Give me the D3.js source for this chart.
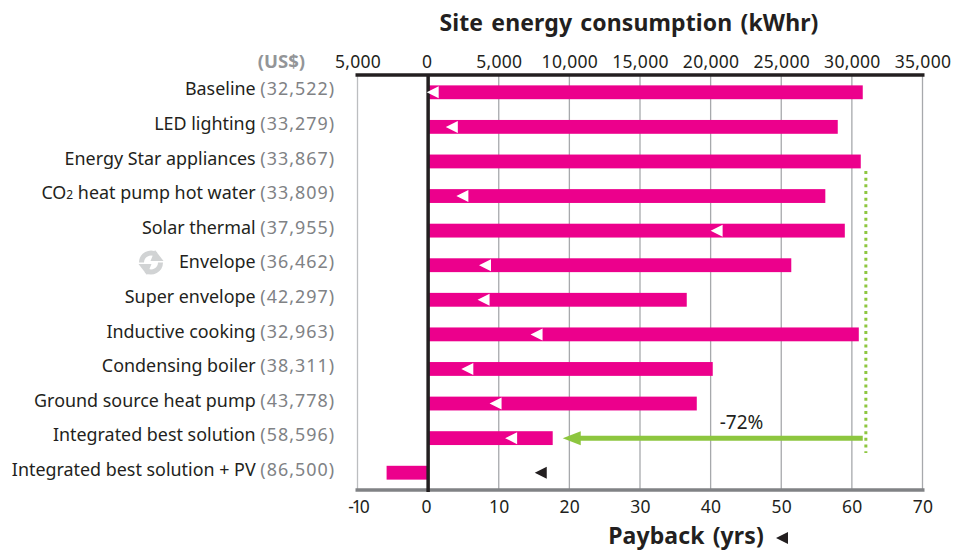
<!DOCTYPE html>
<html>
<head>
<meta charset="utf-8">
<script src="https://cdn.jsdelivr.net/npm/d3@7"></script>
<style>
  body { margin: 0; background: #fff; }
  text { font-family: "Noto Sans", sans-serif; fill: #231f20; }
  .tick-label { font-size: 17.5px; letter-spacing: 0.3px; }
  .row-label { font-size: 17.9px; }
  .row-cost { fill: #808285; letter-spacing: 1px; }
  .title { font-size: 23px; font-weight: 700; letter-spacing: 0.12px; word-spacing: 2px; }
</style>
</head>
<body>
<div id="wrapper"></div>
<script>
// Step 1. Data
const categories = [
  "Baseline", "LED lighting", "Energy Star appliances", "CO2 heat pump hot water",
  "Solar thermal", "Envelope", "Super envelope", "Inductive cooking",
  "Condensing boiler", "Ground source heat pump", "Integrated best solution",
  "Integrated best solution + PV",
];
const costs = [
  "32,522", "33,279", "33,867", "33,809", "37,955", "36,462",
  "42,297", "32,963", "38,311", "43,778", "58,596", "86,500",
];
const energyValues = [30770, 29000, 30630, 28120, 29500, 25710, 18310, 30490, 20150, 19020, 8820, -2940];
const paybackValues = [-0.2, 2.5, null, 4, 40, 7.2, 7, 14.5, 4.7, 8.7, 10.9, 15.1];
const energyTicks = [-5000, 0, 5000, 10000, 15000, 20000, 25000, 30000, 35000];
const paybackTicks = [-10, 0, 10, 20, 30, 40, 50, 60, 70];
const reductionFrom = 30770;
const reductionTo = 9530;
const reductionGuide = 30990;

// Step 2. Dimensions
const dimensions = { width: 969, height: 550, left: 357.5, right: 922.5, top: 75, bottom: 490 };

// Step 3. Canvas
const svg = d3.select("#wrapper").append("svg")
  .attr("width", dimensions.width)
  .attr("height", dimensions.height)
  .style("display", "block");

// Step 4. Scales
const energyScale = d3.scaleLinear().domain([-5000, 35000]).range([dimensions.left, dimensions.right]);
const paybackScale = d3.scaleLinear().domain([-10, 70]).range([dimensions.left, dimensions.right]);
const yScale = d3.scaleBand().domain(categories)
  .range([dimensions.top, dimensions.bottom])
  .paddingInner(0.6).paddingOuter(0.3);
const rowMid = (d) => yScale(d) + yScale.bandwidth() / 2;

// Gridlines
svg.append("g").selectAll("line")
  .data(energyTicks.filter((d) => d !== 0))
  .join("line")
  .attr("x1", (d) => energyScale(d)).attr("x2", (d) => energyScale(d))
  .attr("y1", dimensions.top).attr("y2", dimensions.bottom)
  .attr("stroke", (d) => (d === -5000 ? "#bcbec0" : "#a7a9ac"))
  .attr("stroke-width", 1.3);

// Step 5. Axes lines go under the bars' markers
svg.append("line")
  .attr("x1", dimensions.left - 2).attr("x2", dimensions.right + 2)
  .attr("y1", dimensions.top).attr("y2", dimensions.top)
  .attr("stroke", "#231f20").attr("stroke-width", 3.5);
svg.append("line")
  .attr("x1", dimensions.left - 2).attr("x2", dimensions.right + 2)
  .attr("y1", dimensions.bottom).attr("y2", dimensions.bottom)
  .attr("stroke", "#808285").attr("stroke-width", 3.5);

// Bars
svg.append("g").selectAll("rect")
  .data(categories)
  .join("rect")
  .attr("x", (d, i) => Math.min(energyScale(0), energyScale(energyValues[i])))
  .attr("y", (d) => yScale(d))
  .attr("width", (d, i) => Math.abs(energyScale(energyValues[i]) - energyScale(0)))
  .attr("height", yScale.bandwidth())
  .attr("fill", "#ec008c");

svg.append("line")
  .attr("x1", energyScale(0)).attr("x2", energyScale(0))
  .attr("y1", dimensions.top).attr("y2", dimensions.bottom + 2)
  .attr("stroke", "#231f20").attr("stroke-width", 3.5);

// Payback markers (tip of the triangle sits on the value)
const trianglePath = "M0,0L12,-6L12,6Z";
svg.append("g").selectAll("path")
  .data(categories.filter((d, i) => paybackValues[i] !== null))
  .join("path")
  .attr("d", trianglePath)
  .attr("transform", (d) => `translate(${paybackScale(paybackValues[categories.indexOf(d)])},${rowMid(d)})`)
  .attr("fill", (d) => (d === "Integrated best solution + PV" ? "#231f20" : "#fff"));

// Step 6. Axis labels
const topAxis = d3.axisTop(energyScale)
  .tickValues(energyTicks)
  .tickSize(0)
  .tickPadding(0)
  .tickFormat((d) => d3.format(",")(Math.abs(d)));
svg.append("g")
  .attr("transform", `translate(0,${dimensions.top - 7})`)
  .call(topAxis)
  .call((g) => g.select(".domain").remove())
  .call((g) => g.selectAll("text").attr("class", "tick-label").attr("dy", 0)
    .attr("dx", (d) => (d === 0 ? -1.5 : 0)));

const bottomAxis = d3.axisBottom(paybackScale)
  .tickValues(paybackTicks)
  .tickSize(0)
  .tickPadding(0);
svg.append("g")
  .attr("transform", `translate(0,${dimensions.bottom + 23})`)
  .call(bottomAxis)
  .call((g) => g.select(".domain").remove())
  .call((g) => g.selectAll("text").attr("class", "tick-label").attr("dy", 0)
    .attr("dx", (d) => (d === 0 ? -2 : 0))
    .style("letter-spacing", (d) => (d < 0 ? "-2px" : null))
    .text((d) => String(d).replace("-", "\u2011")));

// Row labels: name then cost, right aligned
const rowLabels = svg.append("g").selectAll("text")
  .data(categories)
  .join("text")
  .attr("class", "row-label")
  .attr("x", 335)
  .attr("y", (d) => rowMid(d) + 3.2)
  .attr("text-anchor", "end");
rowLabels.each(function (d, i) {
  const label = d3.select(this);
  if (d.startsWith("CO2")) {
    label.append("tspan").text("CO");
    label.append("tspan").attr("font-size", 12).text("2");
    label.append("tspan").text(d.slice(3) + " ");
  } else {
    label.append("tspan").text(d + " ");
  }
  label.append("tspan").attr("class", "row-cost").text(`(${costs[i]})`);
});

// Titles
svg.append("text").attr("class", "title")
  .attr("x", 629).attr("y", 31).attr("text-anchor", "middle")
  .text("Site energy consumption (kWhr)");
svg.append("text").attr("class", "title")
  .attr("x", 686).attr("y", 544).attr("text-anchor", "middle")
  .text("Payback (yrs)");
svg.append("path")
  .attr("d", trianglePath)
  .attr("transform", `translate(776,538)`)
  .attr("fill", "#231f20");
svg.append("text")
  .attr("x", 305).attr("y", 68).attr("text-anchor", "end")
  .attr("font-size", 18.5).attr("font-weight", 700)
  .style("fill", "#939598")
  .text("(US$)");

// Reduction arrow and guide
svg.append("line")
  .attr("x1", energyScale(reductionFrom)).attr("x2", energyScale(reductionTo) + 14)
  .attr("y1", rowMid(categories[10])).attr("y2", rowMid(categories[10]))
  .attr("stroke", "#8dc63f").attr("stroke-width", 5);
svg.append("path")
  .attr("d", "M0,0L18,-7L18,7Z")
  .attr("transform", `translate(${energyScale(reductionTo)},${rowMid(categories[10])})`)
  .attr("fill", "#8dc63f");
svg.append("line")
  .attr("x1", energyScale(reductionGuide)).attr("x2", energyScale(reductionGuide))
  .attr("y1", 171).attr("y2", 453)
  .attr("stroke", "#8dc63f").attr("stroke-width", 3)
  .attr("stroke-dasharray", "3 3.67");
svg.append("text")
  .attr("x", 741.5).attr("y", 429).attr("text-anchor", "middle")
  .attr("font-size", 19)
  .text("-72%");

// Recycle icon next to Envelope
const icon = svg.append("g").attr("transform", "translate(151,262.5)")
  .attr("fill", "none").attr("stroke", "#d1d3d4").attr("stroke-width", 5);
icon.append("path").attr("d", "M-9.5,0A9.5,9.5 0 0 1 5,-8");
icon.append("path").attr("d", "M9.5,0A9.5,9.5 0 0 1 -5,8");
icon.append("path").attr("d", "M4,-12.5L12.5,-1.5L-0.5,-1.5Z").attr("fill", "#d1d3d4").attr("stroke", "none");
icon.append("path").attr("d", "M-4,12.5L-12.5,1.5L0.5,1.5Z").attr("fill", "#d1d3d4").attr("stroke", "none");
</script>
</body>
</html>
